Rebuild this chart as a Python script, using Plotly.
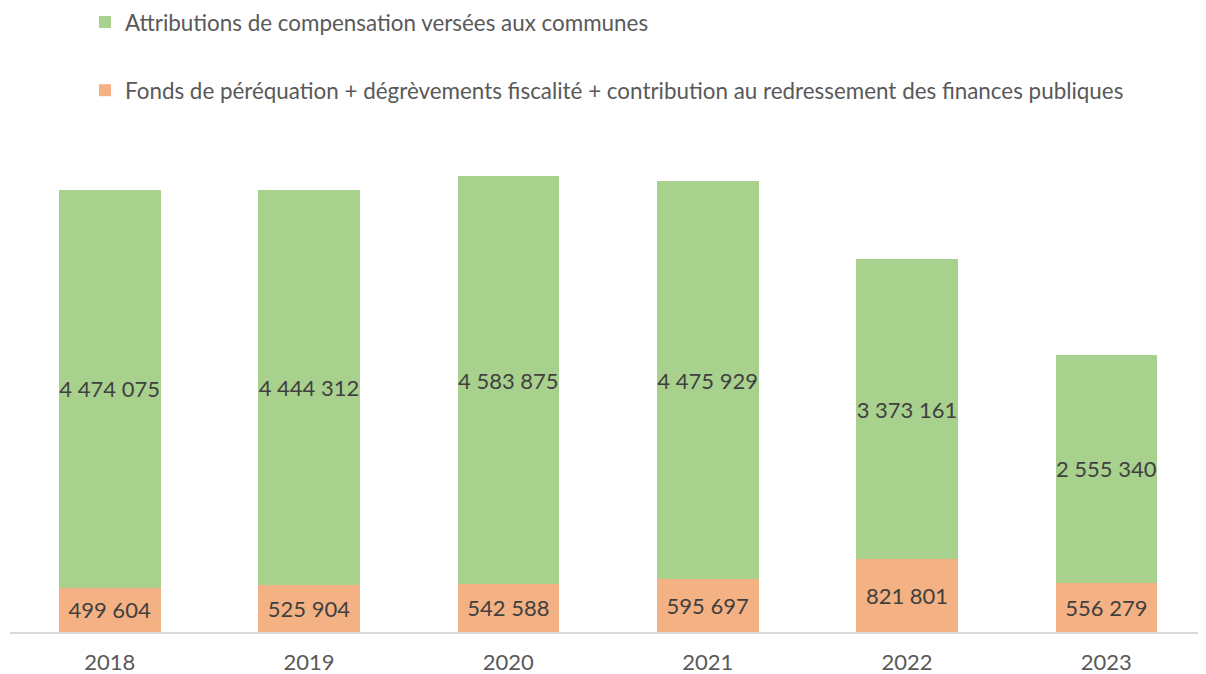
import plotly.graph_objects as go

years = ["2018", "2019", "2020", "2021", "2022", "2023"]
fonds = [499604, 525904, 542588, 595697, 821801, 556279]
attributions = [4474075, 4444312, 4583875, 4475929, 3373161, 2555340]

name_attr = "Attributions de compensation versées aux communes"
name_fonds = "Fonds de péréquation + dégrèvements fiscalité + contribution au redressement des finances publiques"

def fmt(v):
    return f"{v:,}".replace(",", " ")

FONT = "Lato, Open Sans, sans-serif"

fig = go.Figure()
fig.add_trace(go.Bar(
    x=years, y=fonds, name=name_fonds,
    marker=dict(color="#F4B183", line=dict(width=0)),
    text=[fmt(v) for v in fonds], textposition="inside", insidetextanchor="middle",
    textangle=0,
    textfont=dict(size=22, color="#404040", family=FONT),
    constraintext="none", legendgroup="b", legendrank=2, hoverinfo="skip",
))
fig.add_trace(go.Bar(
    x=years, y=attributions, name=name_attr,
    marker=dict(color="#A9D18E", line=dict(width=0)),
    text=[fmt(v) for v in attributions], textposition="inside", insidetextanchor="middle",
    textangle=0,
    textfont=dict(size=22, color="#404040", family=FONT),
    constraintext="none", legendgroup="a", legendrank=1, hoverinfo="skip",
))

fig.update_layout(
    barmode="stack",
    bargap=0.49,
    width=1206, height=674,
    margin=dict(l=2, r=8, t=132, b=50, autoexpand=False),
    paper_bgcolor="white", plot_bgcolor="white",
    font=dict(family=FONT, size=22, color="#595959"),
    legend=dict(
        orientation="v", xref="container", yref="paper",
        x=77/1206, y=1 + 139/492, xanchor="left", yanchor="top",
        font=dict(size=22.4, color="#595959", family=FONT),
        tracegroupgap=36, itemwidth=30,
        bgcolor="rgba(0,0,0,0)",
    ),
    xaxis=dict(
        showline=True, linecolor="#D9D9D9", linewidth=1.5,
        ticks="", tickfont=dict(size=22, color="#595959"),
        ticklabelstandoff=10,
        showgrid=False, automargin=False,
    ),
    yaxis=dict(
        range=[0, 5.535e6], visible=False, showgrid=False, zeroline=False,
        automargin=False,
    ),
    uniformtext=dict(mode=False),
)

fig.write_html("out.html")
